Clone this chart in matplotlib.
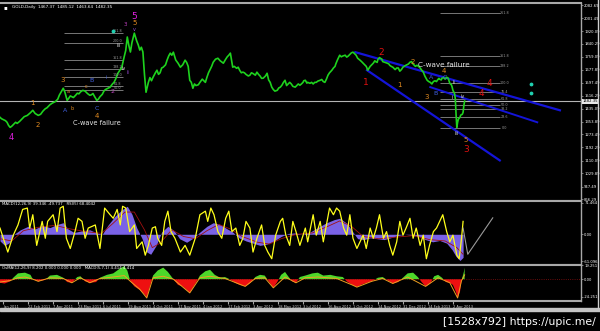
import numpy as np
import matplotlib.pyplot as plt
from matplotlib.transforms import blended_transform_factory

# ---- data (bar index -> value) ----
price_bar = [0, 5, 9, 13, 17, 22, 28, 35, 39, 42,
             49, 55, 60, 64, 71, 76, 81, 83, 86, 90,
             94, 99, 103, 106, 112, 115, 119, 124, 128, 133,
             137, 141, 146, 151, 156, 159, 163, 165, 167, 169,
             172, 175, 179, 183, 187, 190, 192, 196, 201, 205,
             209, 214, 218, 222, 225, 231, 237, 241, 243, 247,
             251, 256, 261, 265, 269, 273, 279, 286, 291, 295,
             298, 303, 307, 311, 315, 320, 324, 329, 333, 337,
             342, 346, 348, 352, 355, 359, 361, 365, 369, 371,
             375, 378, 382, 384, 388, 391, 394, 397, 401, 403,
             407, 410, 414, 416, 420, 425, 429, 432, 435, 439,
             444, 448, 452, 456, 458, 461, 465, 469, 471, 474,
             478, 481, 484, 487, 490, 496, 499, 503, 508, 512,
             516, 521, 525, 529, 534, 538, 540, 544, 547, 551,
             553, 557, 560, 563, 566, 570, 572, 575, 576, 579,
             580, 583, 584, 585, 586, 589, 592, 593, 594, 595]
price_close = [1381, 1365, 1350, 1318, 1335, 1343, 1370, 1393, 1410, 1425,
               1393, 1420, 1440, 1460, 1480, 1520, 1563, 1540, 1487, 1515,
               1505, 1532, 1540, 1550, 1530, 1519, 1530, 1487, 1510, 1545,
               1560, 1570, 1600, 1657, 1695, 1760, 1884, 1830, 1790, 1850,
               1908, 1860, 1802, 1790, 1538, 1600, 1630, 1632, 1676, 1660,
               1695, 1740, 1783, 1789, 1740, 1695, 1739, 1700, 1613, 1563,
               1580, 1600, 1610, 1632, 1680, 1726, 1751, 1720, 1760, 1783,
               1695, 1688, 1675, 1664, 1650, 1645, 1655, 1664, 1640, 1626,
               1657, 1600, 1570, 1545, 1550, 1570, 1582, 1613, 1590, 1600,
               1575, 1570, 1590, 1582, 1600, 1613, 1600, 1594, 1590, 1600,
               1608, 1613, 1605, 1600, 1645, 1676, 1700, 1739, 1770, 1765,
               1758, 1775, 1789, 1770, 1751, 1739, 1720, 1700, 1676, 1700,
               1720, 1730, 1745, 1751, 1730, 1720, 1707, 1695, 1690, 1670,
               1695, 1710, 1726, 1715, 1707, 1690, 1676, 1640, 1613, 1600,
               1590, 1610, 1613, 1620, 1626, 1620, 1632, 1610, 1594, 1570,
               1550, 1500, 1400, 1318, 1350, 1381, 1400, 1412, 1456, 1482]

# in-between swings (daily bar highs/lows)
swing_bar = [2, 7, 11, 15, 20, 25, 31, 45, 52, 58, 67, 74, 79, 88, 97, 101, 109, 117, 121, 126,
             131, 135, 139, 144, 148, 154, 161, 177, 181, 185, 194, 199, 203, 207, 212, 216, 220, 228, 234, 239,
             245, 249, 254, 259, 263, 267, 271, 276, 282, 289, 293, 300, 305, 309, 313, 318, 322, 327, 331, 335,
             340, 344, 350, 357, 363, 367, 373, 380, 386, 389, 393, 399, 405, 412, 418, 422, 427, 430, 437, 442,
             446, 450, 454, 463, 467, 476, 480, 483, 486, 489, 493, 498, 501, 506, 510, 514, 519, 523, 527, 532,
             536, 542, 549, 555, 559, 562, 565, 568, 574, 578, 582, 587, 590]
swing_val = [1372, 1360, 1330, 1325, 1350, 1355, 1385, 1405, 1400, 1435, 1470, 1495, 1545, 1500, 1520, 1528, 1545, 1522, 1512, 1495,
             1525, 1555, 1565, 1590, 1620, 1680, 1800, 1835, 1820, 1650, 1610, 1660, 1650, 1690, 1710, 1765, 1770, 1720, 1710, 1725,
             1600, 1590, 1585, 1620, 1600, 1660, 1700, 1745, 1735, 1745, 1770, 1700, 1695, 1660, 1660, 1640, 1660, 1645, 1650, 1625,
             1640, 1615, 1555, 1565, 1600, 1580, 1590, 1580, 1590, 1610, 1595, 1600, 1600, 1618, 1620, 1660, 1690, 1715, 1760, 1770,
             1765, 1785, 1780, 1730, 1710, 1710, 1735, 1725, 1755, 1745, 1725, 1715, 1700, 1680, 1690, 1680, 1705, 1715, 1730, 1700,
             1700, 1665, 1605, 1605, 1605, 1625, 1615, 1630, 1625, 1585, 1530, 1370, 1395]

rsi_bar = [0, 10, 17, 23, 29, 35, 38, 42, 47, 54, 58, 61, 68, 73, 77, 81, 85, 90, 96, 100,
           105, 109, 113, 122, 128, 134, 141, 145, 150, 154, 157, 161, 166, 172, 175, 182, 186, 190, 195, 199,
           202, 207, 211, 215, 219, 224, 231, 237, 243, 250, 256, 263, 266, 270, 274, 279, 284, 289, 293, 297,
           302, 307, 311, 315, 320, 324, 329, 335, 339, 343, 348, 353, 359, 362, 366, 371, 375, 379, 384, 391,
           394, 401, 405, 410, 414, 418, 422, 427, 431, 435, 440, 444, 448, 452, 457, 461, 465, 469, 474, 478,
           482, 486, 491, 495, 499, 503, 508, 512, 516, 520, 525, 529, 533, 538, 542, 546, 550, 555, 559, 563,
           567, 572, 576, 580, 585, 588, 591, 593]
rsi_val = [14, -40, -2, 21, 56, 59, 14, 44, -25, 29, -9, 29, 44, 6, 59, 63, -9, -32, 6, 36,
           29, -9, 14, 21, -32, 59, 44, 36, 56, 21, 63, 59, 6, 21, -32, -17, -47, -25, 14, 17,
           -9, -25, 29, 52, 6, -9, -40, -25, -47, -9, 44, 52, 29, 59, 44, 6, -9, 36, 52, 6,
           14, -25, -9, 29, 14, -40, -9, 21, -25, -40, -55, -2, 29, 36, -2, -25, 29, 6, -25, 14,
           -17, 44, -2, 29, -17, 21, 59, 44, 59, 52, 14, -2, 44, -9, -32, -17, -2, -32, 14, -9,
           14, 44, -9, 6, -25, -47, -17, 29, -2, 14, 36, -9, 14, -25, -2, -55, -25, 6, 14, 29,
           44, 6, -17, -2, -47, -55, -9, 29]

macd_bar = [0, 6, 13, 18, 26, 36, 45, 54, 64, 73, 81, 87, 95, 105, 115, 124, 131, 138, 147, 156,
            163, 169, 175, 182, 188, 193, 200, 207, 215, 223, 230, 239, 248, 256, 265, 273, 282, 291, 298, 306,
            315, 324, 333, 342, 351, 360, 369, 378, 387, 397, 407, 417, 428, 435, 444, 452, 458, 466, 474, 483,
            492, 500, 509, 518, 527, 536, 545, 554, 563, 572, 579, 584, 589, 593]
macd_val = [-15, -25, -18, 0, 10, 18, 12, 20, 15, 22, 26, 12, 4, 8, 10, 3, 0, 20, 40, 55,
            63, 45, 15, -10, -40, -45, -25, 5, 18, 8, -10, -18, -8, 5, 18, 26, 22, 12, 5, -8,
            -15, -20, -25, -22, -15, -5, 2, 3, 0, 5, 15, 25, 33, 36, 25, 5, -10, -12, -8, -10,
            -12, -8, -3, 0, -2, -5, -12, -17, -14, -20, -35, -50, -59, -52]

signal_bar = [0, 15, 30, 50, 70, 90, 110, 130, 145, 160, 172, 185, 195, 205, 220, 235, 250, 265, 280, 295,
              310, 330, 345, 360, 380, 400, 420, 435, 450, 465, 485, 510, 530, 550, 570, 585, 593]
signal_val = [-10, -15, 8, 16, 20, 12, 6, 2, 25, 50, 50, 10, -30, -20, 10, -5, -10, 8, 22, 12,
              -5, -18, -22, -10, 0, 3, 18, 30, 18, -5, -10, -6, -3, -12, -15, -30, -45]

osma_bar = [0, 6, 13, 17, 23, 32, 39, 42, 49, 58, 64, 73, 81, 86, 92, 99, 103, 109, 115, 123,
            128, 137, 145, 154, 159, 163, 167, 172, 179, 186, 188, 192, 196, 202, 209, 215, 222, 228, 234, 243,
            247, 252, 256, 263, 269, 275, 282, 288, 294, 301, 307, 314, 320, 327, 333, 339, 346, 350, 355, 360,
            365, 369, 374, 379, 384, 391, 400, 407, 414, 423, 431, 439, 444, 451, 457, 464, 470, 476, 484, 490,
            497, 503, 510, 516, 522, 529, 535, 540, 545, 551, 556, 561, 566, 571, 576, 580, 584, 586, 589, 591,
            594, 595]
osma_val = [-5, -6, -3, 2, 8, 9, 6, 0, -3, -1, 5, 6, 2, -4, -5, 3, 4, -3, -5, -4,
            2, 6, 8, 15, 18, 12, -3, -10, -15, -22, -26, -10, 5, 12, 16, 10, 0, -8, -10, -19,
            -12, -3, 5, 11, 13, 6, 2, 3, 0, -5, -8, -10, -6, 3, 6, 5, -6, -12, -4, 6,
            10, 4, -3, -5, 3, 5, 8, 9, 5, 6, 4, 3, -3, -8, -11, -7, -5, -3, 2, 3,
            -2, -6, -4, 2, 8, 9, 3, -4, -10, -6, 4, 6, 2, -4, -5, -8, -18, -26, -18, -2,
            10, 16]
osma_sig_bar = [0, 13, 23, 32, 42, 49, 64, 81, 92, 103, 115, 128, 145, 159, 167, 179, 188, 196, 209, 222,
                243, 256, 269, 288, 314, 327, 339, 350, 365, 379, 391, 407, 431, 451, 457, 476, 490, 503, 522, 545,
                561, 576, 586, 591, 595]
osma_sig_val = [-4, -2, 2, 3, 0, -3, 2, 1, -5, 2, -5, 1, 3, 5, -3, -14, -26, 2, 4, 0,
                -19, 2, 4, 1, -10, 1, 2, -12, 3, -5, 2, 3, 1, -8, -11, -3, 1, -6, 3, -10,
                2, -5, -26, -2, 6]

# axis labels
price_ticks = [2082.69, 2001.49, 1920.09, 1840.29, 1759.09, 1677.89, 1597.49, 1516.29,
               1435.09, 1353.89, 1273.49, 1192.29, 1110.09, 1029.89, 947.49, 866.29]
last_price = 1482.35
date_labels = ["Jan 2011", "22 Feb 2011", "7 Apr 2011", "23 May 2011", "6 Jul 2011",
               "19 Aug 2011", "4 Oct 2011", "17 Nov 2011", "4 Jan 2012", "17 Feb 2012",
               "3 Apr 2012", "18 May 2012", "3 Jul 2012", "16 Aug 2012", "1 Oct 2012",
               "14 Nov 2012", "31 Dec 2012", "14 Feb 2013", "2 Apr 2013"]

fib_left_levels = [1909, 1846, 1739, 1683, 1632, 1576, 1551]
fib_left_text = ["261.8", "200.0", "161.8", "138.2", "100.0", "61.8", "50.0"]
fib_right_levels = [2036, 1764, 1701, 1597, 1540, 1494, 1456, 1431, 1383, 1316]
fib_right_text = ["261.8", "161.8", "138.2", "100.0", "76.4", "61.8", "50.0", "38.2", "23.6", "0.0"]

# wave counts: (text, bar, price, colour, size)
waves = [
    ("5", 172, 2015, "#e020e0", 6.5), ("5", 172, 1971, "#e08a20", 5), ("3", 161, 1965, "#c040c0", 4),
    ("v", 172, 1934, "#a050e0", 3.5), ("iii", 152, 1833, "#dddddd", 3.5), ("iv", 158, 1689, "#dddddd", 3.5),
    ("ii", 164, 1664, "#a050e0", 3.5), ("3", 80, 1614, "#e08a20", 5), ("B", 117, 1614, "#4060e0", 4.5),
    ("a", 88, 1544, "#e08a20", 3.5), ("c", 110, 1572, "#e08a20", 3.5), ("2", 144, 1544, "#c040c0", 4.5),
    ("i", 136, 1632, "#4060e0", 3.5), ("1", 41, 1468, "#e08a20", 5), ("A", 83, 1424, "#4060e0", 4.5),
    ("b", 92, 1437, "#e08a20", 3.5), ("C", 124, 1437, "#4060e0", 4.5), ("4", 124, 1387, "#e08a20", 5),
    ("4", 14, 1255, "#e020e0", 6), ("2", 48, 1336, "#e08a20", 5),
    ("2", 488, 1789, "#e01010", 6.5), ("1", 469, 1601, "#e01010", 6.5), ("2", 528, 1726, "#e08a20", 5),
    ("4", 569, 1672, "#e08a20", 5), ("A", 552, 1632, "#4060e0", 4.5), ("C", 569, 1632, "#4060e0", 4.5),
    ("B", 558, 1531, "#4060e0", 4.5), ("3", 547, 1506, "#e08a20", 5), ("1", 512, 1582, "#e08a20", 5),
    ("ii", 581, 1601, "#dddddd", 3.5), ("i", 579, 1506, "#dddddd", 3.5), ("iv", 593, 1513, "#dddddd", 3.5),
    ("4", 627, 1595, "#e01010", 6.5), ("4", 617, 1532, "#e01010", 6.5), ("iii", 585, 1280, "#dddddd", 3.5),
    ("5", 596, 1236, "#e08a20", 5), ("3", 597, 1180, "#e01010", 6.5),
]

W, H = 600, 331
fig = plt.figure(figsize=(W / 100, H / 100), dpi=100, facecolor="black")
grey = "#a8a8a8"


def panel(top, bottom):
    a = fig.add_axes([0, 1 - bottom / H, 581 / W, (bottom - top) / H])
    a.set_facecolor("black")
    a.set_xlim(0, 744)
    a.spines["left"].set_visible(False)
    for s in ("top", "bottom"):
        a.spines[s].set_color(grey)
        a.spines[s].set_linewidth(1.5)
    a.spines["right"].set_color(grey)
    a.spines["right"].set_linewidth(1)
    a.yaxis.tick_right()
    a.tick_params(axis="y", labelcolor="white", color=grey, labelsize=2.7, length=1.5,
                  width=0.5, pad=0.8)
    a.tick_params(axis="x", length=0)
    a.set_xticks([])
    return a


# ---- main price panel ----
ax = panel(3, 200.5)
ax.set_ylim(860, 2097)
ax.set_yticks(price_ticks)
ax.set_yticklabels([f"{v:.2f}" for v in price_ticks])
ax.axhline(last_price, color="#b4b4b4", lw=0.8)
ax.hlines(fib_left_levels, 82, 158, color="#8a8a8a", lw=0.6)
for lv, t in zip(fib_left_levels, fib_left_text):
    ax.text(150, lv, t, color="#9a9a9a", fontsize=2.4, ha="center", va="bottom")
ax.hlines(fib_right_levels, 563, 640, color="#8a8a8a", lw=0.6)
for lv, t in zip(fib_right_levels, fib_right_text):
    ax.text(646, lv, t, color="#9a9a9a", fontsize=2.4, ha="center", va="center")

ax.plot([455, 717], [1789, 1425], color="#1414d8", lw=1.6)
ax.plot([551, 688], [1570, 1350], color="#1414d8", lw=1.4)
ax.plot([470, 640], [1676, 1111], color="#1414d8", lw=1.6)

pb = np.array(price_bar + swing_bar)
pv = np.array(price_close + swing_val)
order = np.argsort(pb, kind="stable")
ax.plot(pb[order], pv[order], color="#1ed21e", lw=1.2)

for t, b, p, c, s in waves:
    ax.text(b, p, t, color=c, fontsize=s, ha="center", va="center")
ax.text(124, 1343, "C-wave failure", color="#e6e6e6", fontsize=4.8, ha="center", va="center")
ax.text(569, 1707, "C-wave failure", color="#e6e6e6", fontsize=5.2, ha="center", va="center")
ax.scatter([145, 680, 680], [1921, 1588, 1532], color="#20d0b0", s=3, zorder=5)

ax.text(0.006, 0.99, "\u25aa", transform=ax.transAxes, color="white", fontsize=4, va="top")
ax.text(0.02, 0.99, "GOLD,Daily  1467.37  1485.12  1463.64  1482.35", transform=ax.transAxes,
        color="white", fontsize=3.0, va="top")
tr = blended_transform_factory(ax.transAxes, ax.transData)
ax.text(1.003, last_price, f"{last_price:.2f}", transform=tr, color="black", fontsize=2.7,
        va="center", bbox=dict(boxstyle="square,pad=0.15", fc="#e8e8e8", ec="none"))

# ---- MACD / RSI panel ----
ax2 = panel(200.5, 264.5)
ax2.set_ylim(-68, 76)
ax2.set_yticks([71.464, 0, -61.096])
ax2.set_yticklabels(["71.464", "0.00", "-61.096"])
ax2.fill_between(macd_bar, macd_val, 0, color="#7a62e6", lw=0)
ax2.plot(signal_bar, signal_val, color="#a01010", lw=0.6)
ax2.plot(rsi_bar, rsi_val, color="#ffff1a", lw=0.9)
ax2.plot([593, 599, 631], [14, -45, 37], color="#9a9a9a", lw=0.8)
ax2.text(0.004, 0.97, "MACD(12,26,9) 39.346 -49.737   RSI(5) 68.4042", transform=ax2.transAxes,
         color="white", fontsize=2.8, va="top")

# ---- OsMA panel ----
ax3 = panel(264.5, 300.5)
ax3.set_ylim(-29.5, 20.3)
ax3.set_yticks([19.251, 0, -24.251])
ax3.set_yticklabels(["19.251", "0.00", "-24.251"])
ov = np.array(osma_val, dtype=float)
ax3.fill_between(osma_bar, ov, 0, where=ov >= 0, interpolate=True, color="#4cd82a", lw=0)
ax3.fill_between(osma_bar, ov, 0, where=ov <= 0, interpolate=True, color="#ee1010", lw=0)
ax3.axhline(0, color="#8b1010", lw=0.6, ls=":")
ax3.plot(osma_sig_bar, osma_sig_val, color="#f0a020", lw=0.7)
ax3.text(0.004, 0.95, "OsMA(12,26,9) 8.202 0.000 0.000 0.000   MACD(5,7,1) 4.414 4.414",
         transform=ax3.transAxes, color="white", fontsize=2.8, va="top")
date_ticks = [4 + 32 * k for k in range(len(date_labels))]
ax3.set_xticks(date_ticks)
ax3.set_xticklabels(date_labels, fontsize=2.6, color="#cfcfcf", ha="left")
ax3.tick_params(axis="x", length=2, color=grey, pad=1)

# window chrome: tab strip, right border, watermark
fig.patches.append(plt.Rectangle((0, 1 - 310.5 / H), 1, 2.8 / H, transform=fig.transFigure,
                                 color="#c4c4c4", zorder=0))
fig.lines.append(plt.Line2D([598 / W, 598 / W], [1 - 308 / H, 1], transform=fig.transFigure,
                            color="#d0d0d0", lw=1))
fig.text(596 / W, 1 - 322 / H, "[1528x792] https://upic.me/", color="white", fontsize=7.8,
         ha="right", va="center")

fig.savefig("out.png", dpi=100, facecolor="black")
